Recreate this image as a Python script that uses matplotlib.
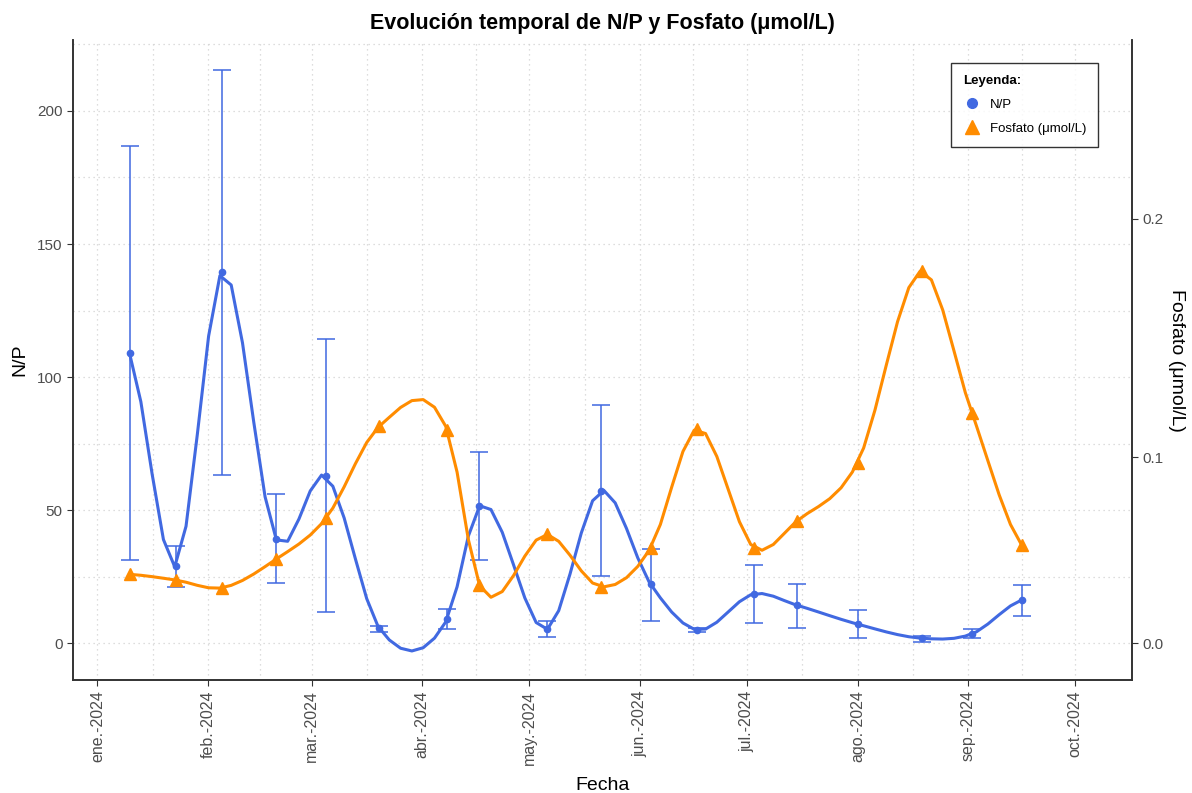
import numpy as np
import pandas as pd
import matplotlib
matplotlib.use("Agg")
import matplotlib.pyplot as plt
import matplotlib.dates as mdates
from matplotlib.lines import Line2D
from matplotlib.ticker import FixedLocator, FormatStrFormatter, NullLocator

# datos
fechas = pd.to_datetime([
    "2024-01-10", "2024-01-23", "2024-02-05", "2024-02-20", "2024-03-05",
    "2024-03-20", "2024-04-08", "2024-04-17", "2024-05-06", "2024-05-21",
    "2024-06-04", "2024-06-17", "2024-07-03", "2024-07-15", "2024-08-01",
    "2024-08-19", "2024-09-02", "2024-09-16"])
np_media = [108.9, 28.9, 139.5, 39.1, 62.8, 5.5, 8.9, 51.5, 5.1, 57.3,
            22.1, 4.9, 18.5, 14.2, 7.1, 1.8, 3.4, 16.2]
np_max = [186.8, 36.6, 215.5, 55.9, 114.2, 6.5, 12.9, 71.7, 8.3, 89.5,
          35.5, 5.5, 29.3, 22.3, 12.4, 2.6, 5.3, 21.7]
np_min = [31.3, 21.2, 63.2, 22.4, 11.5, 4.3, 5.1, 31.3, 2.4, 25.3,
          8.3, 4.0, 7.6, 5.8, 1.8, 0.5, 1.8, 10.3]
fosfato = [0.0403, 0.0371, 0.0328, 0.0485, 0.0699, 0.1143, 0.1127, 0.0343,
           0.0617, 0.0334, 0.0546, 0.1132, 0.0546, 0.0687, 0.0974, 0.1800,
           0.1204, 0.0560]
meses = ["ene.-2024", "feb.-2024", "mar.-2024", "abr.-2024", "may.-2024",
         "jun.-2024", "jul.-2024", "ago.-2024", "sep.-2024", "oct.-2024"]
inicio_meses = pd.date_range("2024-01-01", periods=len(meses), freq="MS")

AZUL = "#4169E1"
NARANJA = "#FF8C00"
GRIS = "#4D4D4D"

plt.rcParams['font.family'] = ['Liberation Sans', 'DejaVu Sans']


def suavizado(x, y, n=80):
    # curva de Hermite que pasa por los puntos, evaluada en n puntos
    x = np.asarray(x, float)
    y = np.asarray(y, float)
    h = np.diff(x)
    d = np.diff(y) / h
    m = np.empty_like(y)
    centrada = (y[2:] - y[:-2]) / (x[2:] - x[:-2])
    tres = (h[:-1] * d[1:] + h[1:] * d[:-1]) / (h[:-1] + h[1:])
    m[1:-1] = 0.5 * (centrada + tres)
    m[0] = 0.5 * d[0]
    m[-1] = 0.5 * d[-1]
    xs = np.linspace(x[0], x[-1], n)
    k = np.clip(np.searchsorted(x, xs, side="right") - 1, 0, len(x) - 2)
    t = (xs - x[k]) / h[k]
    h00 = 2 * t ** 3 - 3 * t ** 2 + 1
    h10 = t ** 3 - 2 * t ** 2 + t
    h01 = -2 * t ** 3 + 3 * t ** 2
    h11 = t ** 3 - t ** 2
    ys = h00 * y[k] + h10 * h[k] * m[k] + h01 * y[k + 1] + h11 * h[k] * m[k + 1]
    return xs, ys


# eje secundario (no lineal) del fosfato
A1, A2 = 601.4, 978.0


def fwd(p):
    p = np.asarray(p, float)
    return A1 * p + A2 * p ** 2


def inv(v):
    v = np.asarray(v, float)
    return (-A1 + np.sqrt(np.clip(A1 ** 2 + 4 * A2 * v, 0, None))) / (2 * A2)


x = mdates.date2num(fechas)
y_lo, y_hi = -13.9, 226.7

fig = plt.figure(figsize=(11.92, 7.93), dpi=100)
ax = fig.add_axes([0.0612, 0.1425, 0.8882, 0.8071])

# rejilla punteada
x0 = mdates.date2num(pd.Timestamp("2024-01-01"))
ax.set_xlim(x0 - 6.86, x0 + 289.8)
ax.set_ylim(y_lo, y_hi)
maj = mdates.date2num(inicio_meses)
ax.set_xticks(maj)
ax.set_xticklabels(meses, rotation=90, color=GRIS, fontsize=11.5)
ax.xaxis.set_minor_locator(FixedLocator((maj[:-1] + maj[1:]) / 2))
ax.set_yticks([0, 50, 100, 150, 200])
ax.yaxis.set_minor_locator(FixedLocator([25, 75, 125, 175, 225]))
ax.grid(which="both", color="#D3D3D3", linestyle=(0, (1, 3)), linewidth=0.9)
ax.tick_params(which="minor", length=0)
ax.tick_params(which="major", length=4, color="#333333", labelcolor=GRIS, labelsize=11)
ax.tick_params(axis="x", labelsize=11.5)

# N/P
xs, ys = suavizado(x, np_media)
ax.plot(xs, ys, color=AZUL, linewidth=2.2, zorder=3)
err = [np.array(np_media) - np.array(np_min), np.array(np_max) - np.array(np_media)]
ax.errorbar(x, np_media, yerr=err, fmt="none", ecolor=AZUL, elinewidth=1.3,
            capsize=6.2, capthick=1.3, alpha=0.85, zorder=3)
ax.plot(x, np_media, "o", color=AZUL, markersize=4.5, zorder=4)

ax.set_ylabel("N/P", fontsize=14, labelpad=6)
ax.set_xlabel("Fecha", fontsize=14, labelpad=9)
ax.set_title("Evolución temporal de N/P y Fosfato (μmol/L)", fontsize=15.5,
             fontweight="bold", pad=8)

# Fosfato
ax2 = ax.twinx()
ax2.set_yscale("function", functions=(fwd, inv))
ax2.set_ylim(float(inv(y_lo)), float(inv(y_hi)))
xs2, ys2 = suavizado(x, fwd(fosfato))
ax2.plot(xs2, inv(ys2), color=NARANJA, linewidth=2.2, zorder=3)
ax2.plot(x, fosfato, "^", color=NARANJA, markersize=8, zorder=4)
ax2.yaxis.set_major_locator(FixedLocator([0.0, 0.1, 0.2]))
ax2.yaxis.set_major_formatter(FormatStrFormatter("%.1f"))
ax2.yaxis.set_minor_locator(NullLocator())
ax2.tick_params(length=4, color="#333333", labelcolor=GRIS, labelsize=11)
ax2.set_ylabel("Fosfato (μmol/L)", fontsize=14, rotation=-90, labelpad=16)

for a in (ax, ax2):
    a.spines["top"].set_visible(False)
    for s in ("left", "right", "bottom"):
        a.spines[s].set_color("#333333")
        a.spines[s].set_linewidth(1.2)

handles = [
    Line2D([], [], marker="o", color=AZUL, linestyle="none", markersize=7, label="N/P"),
    Line2D([], [], marker="^", color=NARANJA, linestyle="none", markersize=10,
           label="Fosfato (μmol/L)"),
]
leg = ax2.legend(handles=handles, title="Leyenda:", loc="upper right",
                 bbox_to_anchor=(0.968, 0.964), borderaxespad=0, fontsize=9.5,
                 title_fontsize=9.5, frameon=True, fancybox=False,
                 edgecolor="black", handlelength=1.3, handletextpad=0.7,
                 borderpad=0.9, labelspacing=0.9)
leg.get_title().set_fontweight("bold")
leg._legend_box.align = "left"
leg.get_frame().set_linewidth(1.0)

fig.savefig("out.png", dpi=100)
